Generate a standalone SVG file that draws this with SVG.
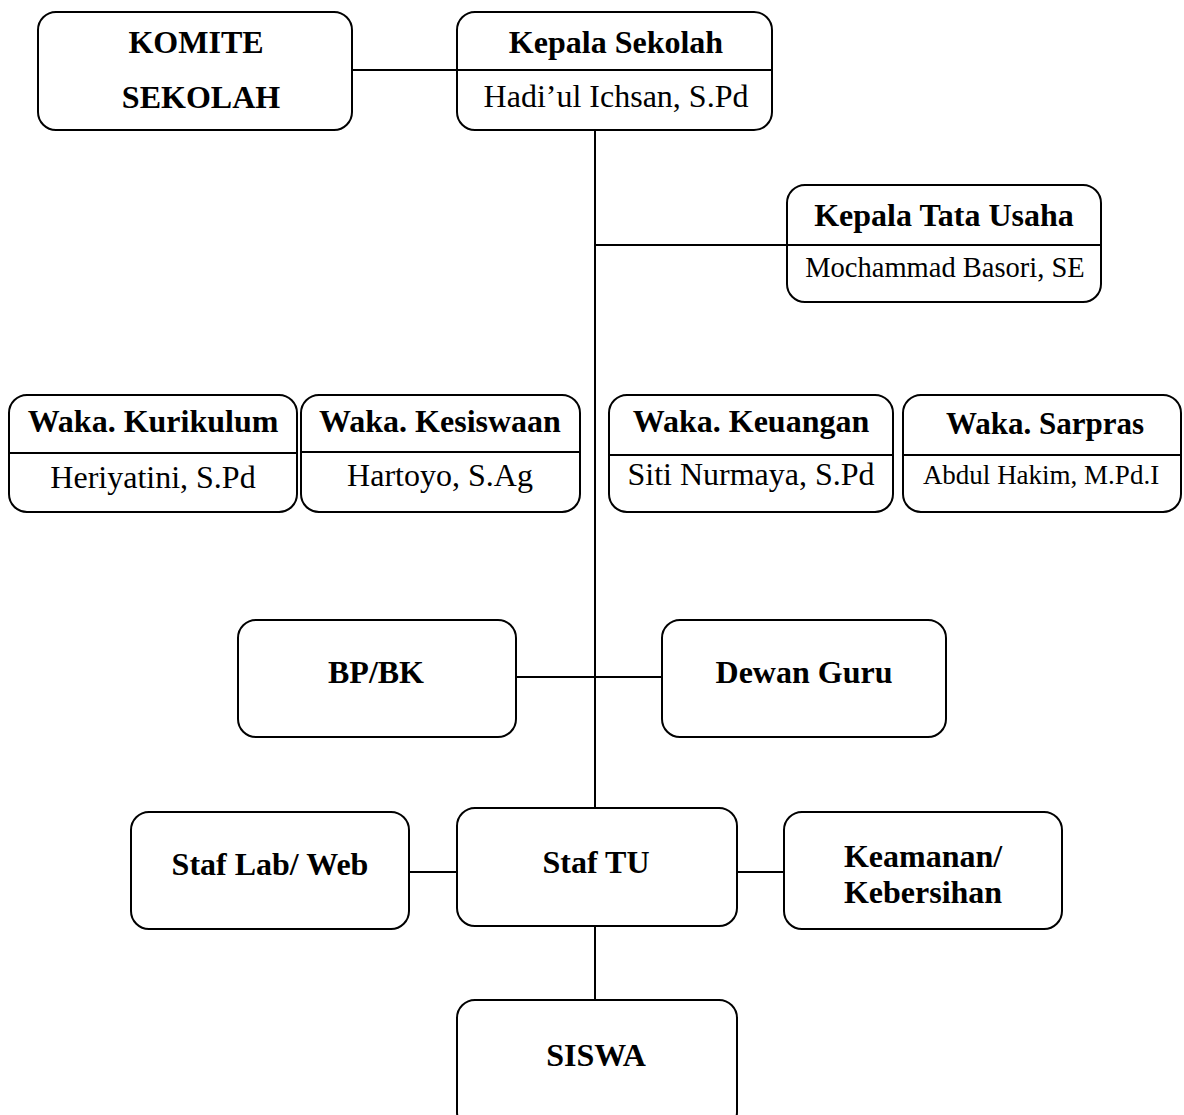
<svg xmlns="http://www.w3.org/2000/svg" width="1184" height="1115" viewBox="0 0 1184 1115">
<style>
.box{fill:#fff;stroke:#000;stroke-width:2}
.ln{stroke:#000;stroke-width:2;fill:none}
.t{font-family:"Liberation Serif","Times New Roman",serif;font-weight:bold;font-size:32px;text-anchor:middle;fill:#000}
.n{font-family:"Liberation Serif","Times New Roman",serif;font-size:32px;text-anchor:middle;fill:#000}
</style>
<rect width="1184" height="1115" fill="#fff"/>
<g id="connectors">
<path class="ln" d="M352 70H457"/>
<path class="ln" d="M595 130V808"/>
<path class="ln" d="M595 245H787"/>
<path class="ln" d="M516 677H662"/>
<path class="ln" d="M409 872H457"/>
<path class="ln" d="M737 872H784"/>
<path class="ln" d="M595 926V1000"/>
</g>
<g id="komite">
<rect class="box" x="38" y="12" width="314" height="118" rx="18"/>
<text class="t" x="196" y="53">KOMITE</text>
<text class="t" x="201" y="108">SEKOLAH</text>
</g>
<g id="kepala-sekolah">
<rect class="box" x="457" y="12" width="315" height="118" rx="18"/>
<path class="ln" d="M457 70H772"/>
<text class="t" x="616" y="53">Kepala Sekolah</text>
<text class="n" x="616" y="107">Hadi’ul Ichsan, S.Pd</text>
</g>
<g id="kepala-tu">
<rect class="box" x="787" y="185" width="314" height="117" rx="18"/>
<path class="ln" d="M787 245H1101"/>
<text class="t" x="944" y="226">Kepala Tata Usaha</text>
<text class="n" x="945" y="277" style="font-size:28.5px">Mochammad Basori, SE</text>
</g>
<g id="waka-kurikulum">
<rect class="box" x="9" y="395" width="288" height="117" rx="18"/>
<path class="ln" d="M9 453H297"/>
<text class="t" x="153" y="432">Waka. Kurikulum</text>
<text class="n" x="153" y="488">Heriyatini, S.Pd</text>
</g>
<g id="waka-kesiswaan">
<rect class="box" x="301" y="395" width="279" height="117" rx="18"/>
<path class="ln" d="M301 452H580"/>
<text class="t" x="440" y="432">Waka. Kesiswaan</text>
<text class="n" x="440" y="486">Hartoyo, S.Ag</text>
</g>
<g id="waka-keuangan">
<rect class="box" x="609" y="395" width="284" height="117" rx="18"/>
<path class="ln" d="M609 455H893"/>
<text class="t" x="751" y="432">Waka. Keuangan</text>
<text class="n" x="751" y="485">Siti Nurmaya, S.Pd</text>
</g>
<g id="waka-sarpras">
<rect class="box" x="903" y="395" width="278" height="117" rx="18"/>
<path class="ln" d="M903 455H1181"/>
<text class="t" x="1045" y="434" style="font-size:31px">Waka. Sarpras</text>
<text class="n" x="1041" y="484" style="font-size:27px">Abdul Hakim, M.Pd.I</text>
</g>
<g id="bp-bk">
<rect class="box" x="238" y="620" width="278" height="117" rx="18"/>
<text class="t" x="376" y="683">BP/BK</text>
</g>
<g id="dewan-guru">
<rect class="box" x="662" y="620" width="284" height="117" rx="18"/>
<text class="t" x="804" y="683">Dewan Guru</text>
</g>
<g id="staf-lab">
<rect class="box" x="131" y="812" width="278" height="117" rx="18"/>
<text class="t" x="270" y="875">Staf Lab/ Web</text>
</g>
<g id="staf-tu">
<rect class="box" x="457" y="808" width="280" height="118" rx="18"/>
<text class="t" x="596" y="873">Staf TU</text>
</g>
<g id="keamanan">
<rect class="box" x="784" y="812" width="278" height="117" rx="18"/>
<text class="t" x="923" y="867">Keamanan/</text>
<text class="t" x="923" y="903">Kebersihan</text>
</g>
<g id="siswa">
<rect class="box" x="457" y="1000" width="280" height="130" rx="18"/>
<text class="t" x="596" y="1066">SISWA</text>
</g>
</svg>
